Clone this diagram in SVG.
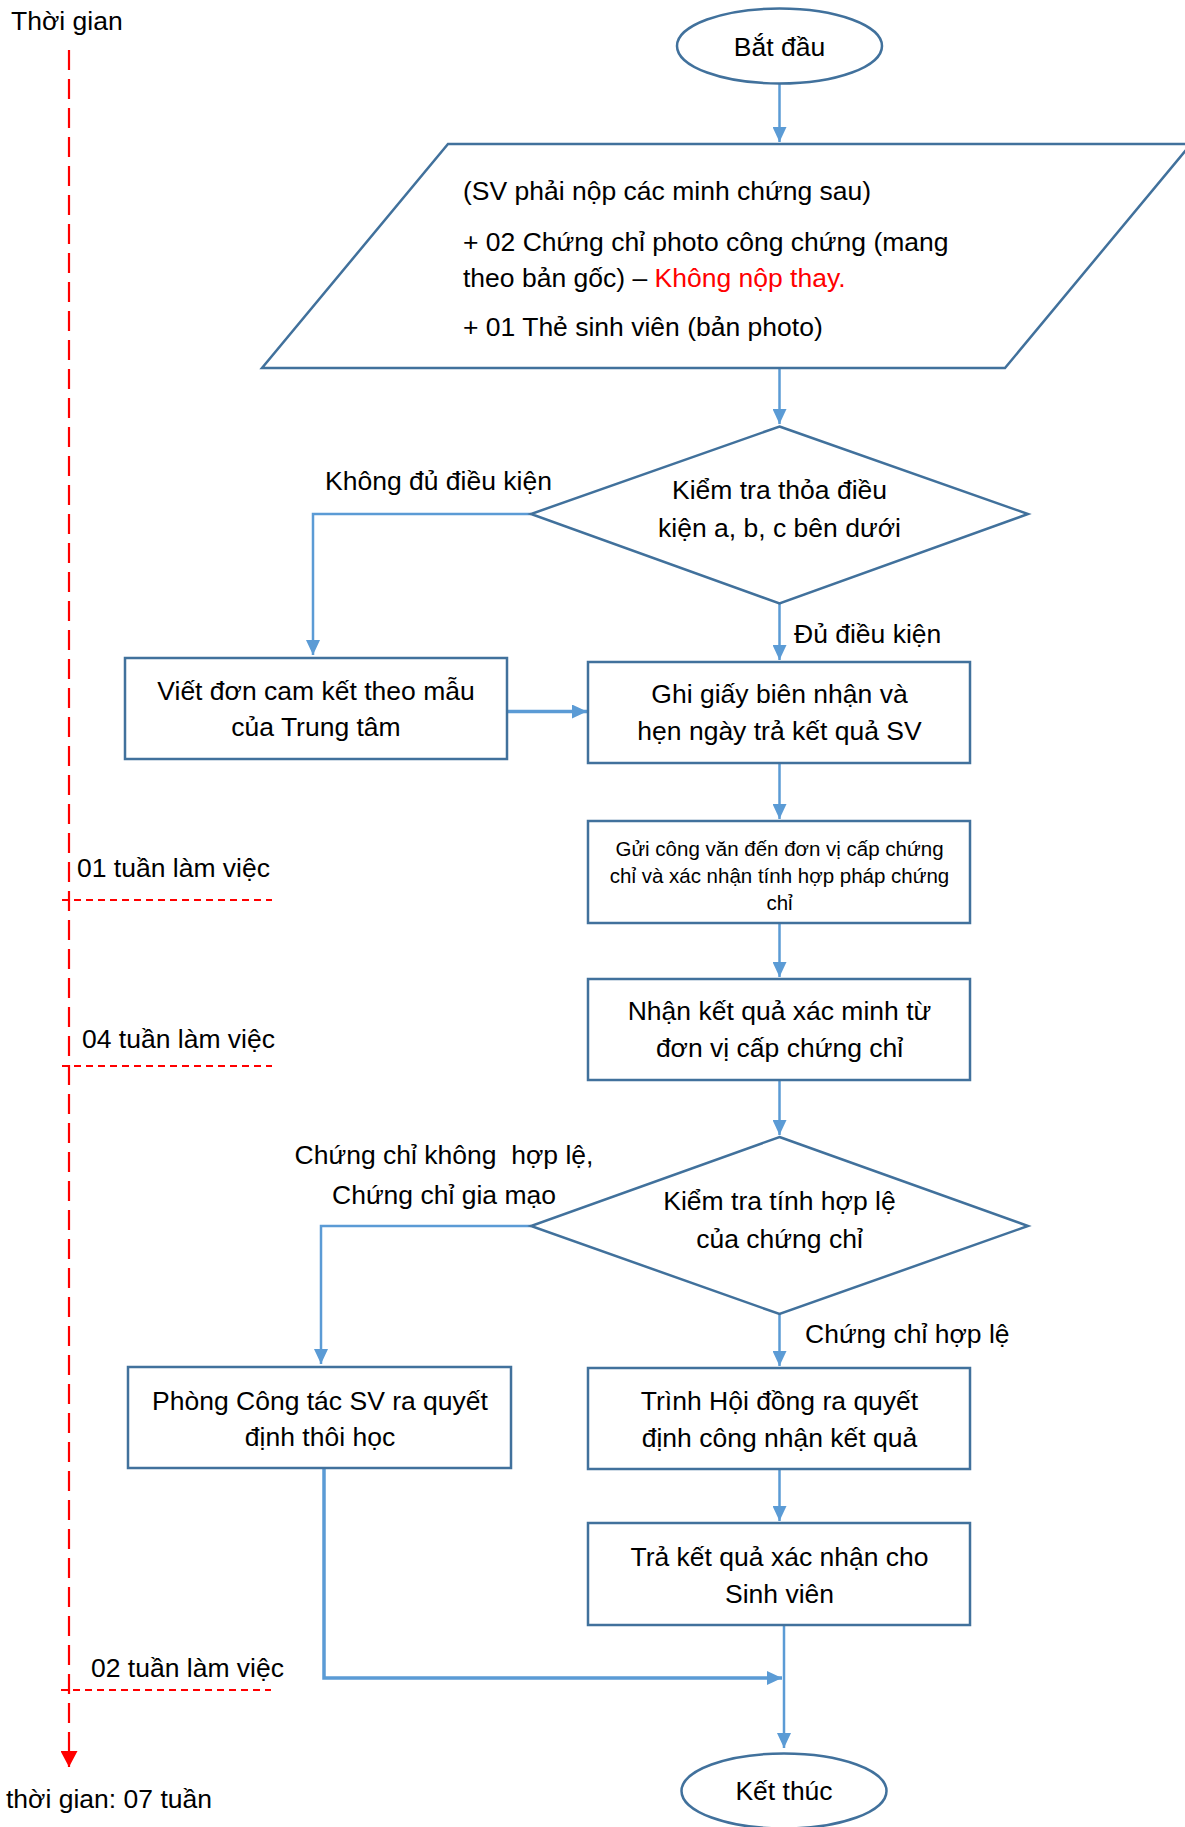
<svg xmlns="http://www.w3.org/2000/svg" width="1185" height="1827" viewBox="0 0 1185 1827">
<style>
.node{fill:#FFFFFF;stroke:#41719C;stroke-width:2.5}
.conn{fill:none;stroke:#5B9BD5;stroke-width:2.5}
.conn-thick{fill:none;stroke:#5B9BD5;stroke-width:3.5}
.t{font-family:"Liberation Sans",Arial,sans-serif;font-size:26.5px;fill:#000000}
.c{text-anchor:middle}
.s{font-size:20.5px}
.red{fill:#FF0000}
.tl{fill:none;stroke:#FF0000;stroke-width:2.2;stroke-dasharray:20 9}
.tick{fill:none;stroke:#FF0000;stroke-width:2;stroke-dasharray:7 5}
</style>
<defs>
<marker id="arr" viewBox="0 0 15 14" refX="15" refY="7" markerWidth="15" markerHeight="14" markerUnits="userSpaceOnUse" orient="auto">
<path d="M0,0 L15,7 L0,14 Z" fill="#5B9BD5"/>
</marker>
<marker id="arrRed" viewBox="0 0 16 17" refX="16" refY="8.5" markerWidth="16" markerHeight="17" markerUnits="userSpaceOnUse" orient="auto">
<path d="M0,0 L16,8.5 L0,17 Z" fill="#FF0000"/>
</marker>
</defs>

<g id="timeline">
<text class="t" x="11" y="30">Thời gian</text>
<path class="tl" d="M69,50 V1767" marker-end="url(#arrRed)"/>
<text class="t" x="77" y="877">01 tuần làm việc</text>
<path class="tick" d="M62,900 H272"/>
<text class="t" x="82" y="1048">04 tuần làm việc</text>
<path class="tick" d="M62,1066 H272"/>
<text class="t" x="91" y="1677">02 tuần làm việc</text>
<path class="tick" d="M61,1690 H271"/>
<text class="t" x="6" y="1808">thời gian: 07 tuần</text>
</g>

<g id="connectors">
<path class="conn" d="M779.5,84 V142" marker-end="url(#arr)"/>
<path class="conn" d="M779.5,368 V424" marker-end="url(#arr)"/>
<path class="conn" d="M531,514 H313 V655" marker-end="url(#arr)"/>
<path class="conn" d="M779.5,603.5 V660" marker-end="url(#arr)"/>
<path class="conn-thick" d="M507,711.5 H587" marker-end="url(#arr)"/>
<path class="conn" d="M779.5,763 V819" marker-end="url(#arr)"/>
<path class="conn" d="M779.5,923 V977" marker-end="url(#arr)"/>
<path class="conn" d="M779.5,1080 V1135" marker-end="url(#arr)"/>
<path class="conn" d="M531,1226 H321 V1364" marker-end="url(#arr)"/>
<path class="conn" d="M779.5,1314 V1366" marker-end="url(#arr)"/>
<path class="conn" d="M779.5,1469 V1521" marker-end="url(#arr)"/>
<path class="conn" d="M784,1625 V1748" marker-end="url(#arr)"/>
<path class="conn-thick" d="M324,1469 V1678 H782" marker-end="url(#arr)"/>
<text class="t" x="325" y="490">Không đủ điều kiện</text>
<text class="t" x="794" y="643">Đủ điều kiện</text>
<text class="t c" x="444" y="1164" xml:space="preserve">Chứng chỉ không  hợp lệ,</text>
<text class="t c" x="444" y="1204">Chứng chỉ gia mạo</text>
<text class="t" x="805" y="1343">Chứng chỉ hợp lệ</text>
</g>

<g id="start">
<ellipse class="node" cx="779.5" cy="46" rx="102.5" ry="37.5"/>
<text class="t c" x="779.5" y="56">Bắt đầu</text>
</g>

<g id="input">
<polygon class="node" points="448,144 1191,144 1005,368 262,368"/>
<text class="t" x="463" y="200">(SV phải nộp các minh chứng sau)</text>
<text class="t" x="463" y="251">+ 02 Chứng chỉ photo công chứng (mang</text>
<text class="t" x="463" y="287">theo bản gốc) – <tspan class="red">Không nộp thay.</tspan></text>
<text class="t" x="463" y="336">+ 01 Thẻ sinh viên (bản photo)</text>
</g>

<g id="check1">
<polygon class="node" points="779.5,426.5 1028,514 779.5,603.5 531,514"/>
<text class="t c" x="779.5" y="499">Kiểm tra thỏa điều</text>
<text class="t c" x="779.5" y="537">kiện a, b, c bên dưới</text>
</g>

<g id="commit">
<rect class="node" x="125" y="658" width="382" height="101"/>
<text class="t c" x="316" y="700">Viết đơn cam kết theo mẫu</text>
<text class="t c" x="316" y="736">của Trung tâm</text>
</g>

<g id="receipt">
<rect class="node" x="588" y="662" width="382" height="101"/>
<text class="t c" x="779.5" y="703">Ghi giấy biên nhận và</text>
<text class="t c" x="779.5" y="740">hẹn ngày trả kết quả SV</text>
</g>

<g id="send">
<rect class="node" x="588" y="821" width="382" height="102"/>
<text class="t c s" x="779.5" y="856">Gửi công văn đến đơn vị cấp chứng</text>
<text class="t c s" x="779.5" y="883">chỉ và xác nhận tính hợp pháp chứng</text>
<text class="t c s" x="779.5" y="910">chỉ</text>
</g>

<g id="verify">
<rect class="node" x="588" y="979" width="382" height="101"/>
<text class="t c" x="779.5" y="1020">Nhận kết quả xác minh từ</text>
<text class="t c" x="779.5" y="1057">đơn vị cấp chứng chỉ</text>
</g>

<g id="check2">
<polygon class="node" points="779.5,1137 1028,1226 779.5,1314 531,1226"/>
<text class="t c" x="779.5" y="1210">Kiểm tra tính hợp lệ</text>
<text class="t c" x="779.5" y="1248">của chứng chỉ</text>
</g>

<g id="expel">
<rect class="node" x="128" y="1367" width="383" height="101"/>
<text class="t c" x="320" y="1410">Phòng Công tác SV ra quyết</text>
<text class="t c" x="320" y="1446">định thôi học</text>
</g>

<g id="council">
<rect class="node" x="588" y="1368" width="382" height="101"/>
<text class="t c" x="779.5" y="1410">Trình Hội đồng ra quyết</text>
<text class="t c" x="779.5" y="1447">định công nhận kết quả</text>
</g>

<g id="return">
<rect class="node" x="588" y="1523" width="382" height="102"/>
<text class="t c" x="779.5" y="1566">Trả kết quả xác nhận cho</text>
<text class="t c" x="779.5" y="1603">Sinh viên</text>
</g>

<g id="end">
<ellipse class="node" cx="784" cy="1791" rx="102.5" ry="37.5"/>
<text class="t c" x="784" y="1800">Kết thúc</text>
</g>
</svg>
